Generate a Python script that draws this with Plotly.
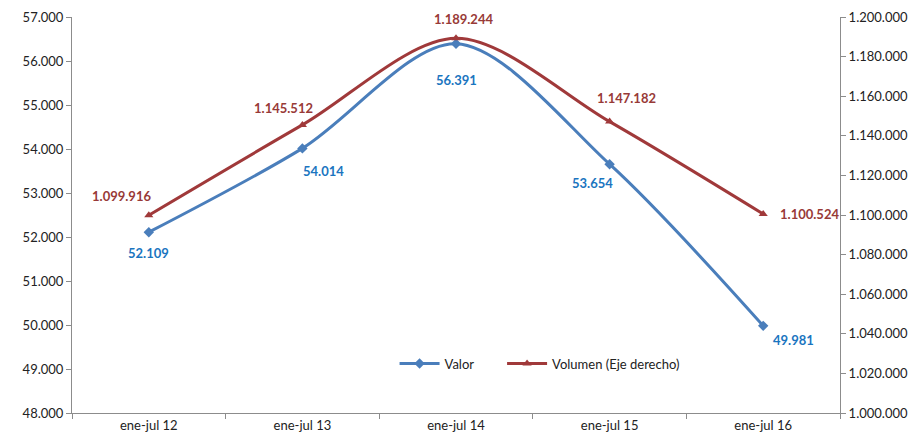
import plotly.graph_objects as go

periodos = ["ene-jul 12", "ene-jul 13", "ene-jul 14", "ene-jul 15", "ene-jul 16"]
valor = [52109, 54014, 56391, 53654, 49981]
volumen = [1099916, 1145512, 1189244, 1147182, 1100524]

azul = "#4a7ebb"
rojo = "#a0393a"
txt_azul = "#1a75bf"
txt_rojo = "#983a37"

def fmt(v):
    return f"{v:,}".replace(",", ".")

fig = go.Figure()
fig.add_trace(go.Scatter(x=periodos, y=valor, name="Valor", mode="lines+markers",
                         line=dict(color=azul, width=3, shape="spline", smoothing=0.9),
                         marker=dict(symbol="diamond", size=8, color=azul),
                         legend="legend"))
fig.add_trace(go.Scatter(x=periodos, y=volumen, name="Volumen (Eje derecho)", yaxis="y2",
                         mode="lines+markers",
                         line=dict(color=rojo, width=3, shape="spline", smoothing=0.9),
                         marker=dict(symbol="triangle-up", size=8, color=rojo),
                         legend="legend2"))

# desplazamientos de las etiquetas (px)
off_valor = [(0, -21), (21, -23), (0, -36), (-17, -19), (30, -14)]
off_vol = [(-27, 19), (-19, 17), (7, 19), (17, 24), (46, 0)]
for p, v, (dx, dy) in zip(periodos, valor, off_valor):
    fig.add_annotation(x=p, y=v, text=f"<b>{fmt(v)}</b>", showarrow=False,
                       xshift=dx, yshift=dy, font=dict(color=txt_azul, size=13))
for p, v, (dx, dy) in zip(periodos, volumen, off_vol):
    fig.add_annotation(x=p, y=v, yref="y2", text=f"<b>{fmt(v)}</b>", showarrow=False,
                       xshift=dx, yshift=dy, font=dict(color=txt_rojo, size=13))

eje = dict(showline=True, linecolor="#8c8c8c", linewidth=1, ticks="outside",
           tickcolor="#8c8c8c", ticklen=5, showgrid=False, zeroline=False,
           automargin=False, tickfont=dict(size=13, color="#222"))

leyenda = dict(orientation="h", y=0.125, xanchor="left", yanchor="middle",
               bgcolor="rgba(0,0,0,0)", font=dict(size=13), itemwidth=40)

# la página html deja 8 px de margen, por eso 914x434
fig.update_layout(
    width=914, height=434,
    margin=dict(l=64, r=82, t=9, b=29),
    plot_bgcolor="white", paper_bgcolor="white",
    font=dict(family="Lato, 'Noto Sans', sans-serif", size=13, color="#222"),
    separators=",.",
    showlegend=True,
    legend=dict(x=0.42, **leyenda),
    legend2=dict(x=0.56, **leyenda),
    xaxis=dict(type="category", range=[-0.5, 4.5], tickson="boundaries", **eje),
    yaxis=dict(range=[48000, 57000], dtick=1000, tickformat=",.0f", **eje),
    yaxis2=dict(range=[1000000, 1200000], dtick=20000, tickformat=",.0f",
                overlaying="y", side="right", **eje),
)

fig.write_html("out.html")
